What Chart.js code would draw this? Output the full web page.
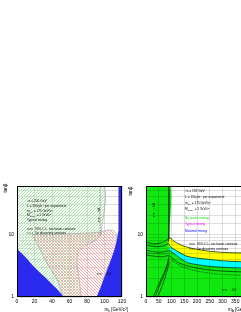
<!DOCTYPE html>
<html>
<head>
<meta charset="utf-8">
<script src="https://cdn.jsdelivr.net/npm/chart.js@4.4.0/dist/chart.umd.min.js"></script>
<style>
html, body { margin: 0; padding: 0; background: #fff; overflow: hidden; width: 241px; height: 312px; }
canvas { position: absolute; }
#left { left: 0; top: 180px; }
#right { left: 128px; top: 180px; }
</style>
</head>
<body>
<canvas id="left" width="130" height="132"></canvas>
<canvas id="right" width="130" height="132"></canvas>
<script>
const FONT = '"Liberation Sans", Arial, sans-serif';

// axes
const tanbRange = [1, 60];
const tanbLabels = [1, 10];
const mhRange = [0, 120];
const mhStep = 20;
const mARange = [0, 400];
const mAStep = 50;

// left panel: tanb vs m_h, regions as [m_h, tanb]
const hAExcl = [[0,0.8],[0,70],[96,70],[96,10],[92,8.6],[84,7.3],[76,6.3],[70,5.2],[68.5,3.8],[70,2.4],[72,1.5],[74,0.8]];
const hZExcl = [[17,10],[40,10.1],[70,10.4],[95,11],[104,11.8],[110,11.6],[114,10],[114,8],[111,5.5],[107,3.8],[102,2.5],[97,1.6],[92,0.9],[57,0.9],[45,2],[34,3.5],[26,6],[17,10]];
const noSolLow = [[-5,8],[0,6],[10,4.3],[20,3],[30,2.2],[40,1.6],[50,1.15],[56,0.8],[-5,0.8]];
const noSolHigh = [[116,70],[130,70],[130,0.8],[91,0.8],[97,1.6],[102,2.5],[107,3.8],[111,5.5],[114,8],[116,12]];
const hADisc = [[95,70],[95,9.3]];

// right panel: tanb vs m_A
const hAExclR = [[0,0.8],[0,70],[91,70],[91,8.6],[95,8.8],[110,7.8],[130,7.0],[150,6.5],[200,5.8],[250,5.4],[300,5.2],[350,5.1],[420,5.0],[420,0.8]];
const typicalBand = [[88,8.0],[95,8.8],[110,7.8],[130,7.0],[150,6.5],[200,5.8],[250,5.4],[300,5.2],[350,5.1],[420,5.0],[420,3.6],[350,3.7],[300,3.8],[250,4.0],[200,4.2],[160,4.5],[130,5.2],[110,5.8],[100,6.2],[95,6.4],[90,6.3]];
const maximalBand = [[92,6.0],[95,6.4],[100,6.2],[110,5.8],[130,5.2],[160,4.5],[200,4.2],[250,4.0],[300,3.8],[350,3.7],[420,3.6],[420,2.85],[350,2.9],[300,3.0],[250,3.1],[200,3.3],[160,3.6],[120,4.6],[100,5.3],[93,5.5]];
const contoursR = [
  [[0,7.6],[30,7.1],[60,7.4],[80,8.1],[95,8.8],[110,7.8],[150,6.5],[200,5.8],[250,5.4],[300,5.2],[420,5.0]],
  [[0,6.8],[40,6.4],[70,6.6],[88,7.2],[95,6.4],[110,5.8],[130,5.2],[160,4.5],[200,4.2],[250,4.0],[300,3.8],[420,3.6]],
  [[0,5.6],[50,5.2],[80,5.4],[93,5.5],[100,5.3],[120,4.6],[160,3.6],[200,3.3],[250,3.1],[300,3.0],[420,2.85]],
  [[0,4.7],[60,4.4],[90,4.6],[100,4.3],[130,3.5],[200,2.9],[300,2.6],[420,2.5]],
  [[28,1],[50,1.6],[70,2.4],[85,3.5],[90,4.5]],
  [[36,1],[58,1.7],[78,2.7],[90,4.0]],
  [[46,1],[66,1.6],[82,2.6],[92,3.6]],
  [[88.5,70],[88.5,7.6]],
  [[91,70],[91,8.6]]
];
const discoveryR = [
  [[100,3.9],[140,3.1],[200,2.6],[300,2.3],[420,2.2]],
  [[0,5.1],[60,4.9],[92,5.0]]
];

function hatch(color, dir) {
  const c = document.createElement('canvas');
  c.width = 3; c.height = 3;
  const g = c.getContext('2d');
  g.fillStyle = color;
  for (let i = 0; i < 3; i++) {
    for (let j = 0; j < 3; j++) {
      if ((dir > 0 ? (i + j) : (i - j + 3)) % 3 === 0) g.fillRect(i, j, 1, 1);
    }
  }
  return g.createPattern(c, 'repeat');
}

const pts = arr => arr.map(p => ({x: p[0], y: p[1]}));

function area(data, bg, border, order, bw) {
  return { data: pts(data), backgroundColor: bg, borderColor: border || 'rgba(0,0,0,0)',
    borderWidth: bw || 0, fill: 'shape', pointRadius: 0, tension: 0.3, order: order, clip: 0 };
}
function line(data, color, width, dash, order) {
  return { data: pts(data), borderColor: color, borderWidth: width, borderDash: dash || [],
    fill: false, pointRadius: 0, tension: 0.3, order: order, clip: 0 };
}

function richParts(s) {
  const out = [];
  const re = /([_^])\{([^}]*)\}/g;
  let last = 0, m;
  while ((m = re.exec(s))) {
    if (m.index > last) out.push([s.slice(last, m.index), 0]);
    out.push([m[2], m[1] === '_' ? 1 : -1]);
    last = re.lastIndex;
  }
  if (last < s.length) out.push([s.slice(last), 0]);
  return out;
}
function drawRich(ctx, s, x, y, size, align) {
  const parts = richParts(s);
  let w = 0;
  for (const [t, k] of parts) { ctx.font = (k ? size * 0.7 : size) + 'px ' + FONT; w += ctx.measureText(t).width; }
  let cx = align === 'right' ? x - w : align === 'center' ? x - w / 2 : x;
  for (const [t, k] of parts) {
    ctx.font = (k ? size * 0.7 : size) + 'px ' + FONT;
    ctx.fillText(t, cx, y + k * size * 0.3);
    cx += ctx.measureText(t).width;
  }
}

const notes = {
  id: 'notes',
  afterDraw(chart, args, opts) {
    const { ctx, chartArea: a } = chart;
    ctx.save();
    ctx.strokeStyle = '#000';
    ctx.lineWidth = 1;
    ctx.strokeRect(a.left + 0.5, a.top + 0.5, a.width - 1, a.height - 1);
    ctx.textBaseline = 'middle';
    for (const n of opts.items) {
      const x = n.m !== undefined ? chart.scales.x.getPixelForValue(n.m) : a.left + n.dx;
      const y = n.t !== undefined ? chart.scales.y.getPixelForValue(n.t) : a.top + n.dy;
      ctx.fillStyle = n.color || '#000';
      if (n.sample) {
        ctx.strokeStyle = '#000';
        ctx.lineWidth = 0.6;
        ctx.setLineDash(n.sample === 'dashed' ? [1.5, 1] : []);
        ctx.beginPath(); ctx.moveTo(x - 8, y); ctx.lineTo(x - 2, y); ctx.stroke();
        ctx.setLineDash([]);
      }
      if (n.rot) {
        ctx.save();
        ctx.translate(x, y);
        ctx.rotate(-Math.PI / 2);
        drawRich(ctx, n.text, 0, 0, n.size, 'center');
        ctx.restore();
      } else {
        drawRich(ctx, n.text, x, y, n.size, n.align || 'left');
      }
    }
    ctx.restore();
  }
};

function makeChart(id, xRange, xStep, datasets, pad, yWidth, gridZ, items) {
  return new Chart(document.getElementById(id), {
    type: 'line',
    data: { datasets: datasets },
    options: {
      responsive: false, animation: false, events: [],
      layout: { padding: pad },
      plugins: { legend: { display: false }, tooltip: { enabled: false }, notes: { items: items } },
      scales: {
        x: {
          type: 'linear', min: xRange[0], max: xRange[1],
          afterFit: s => { s.height = 15; },
          ticks: { stepSize: xStep, color: '#000', padding: 2, maxRotation: 0, autoSkip: false, font: { size: 5, family: FONT } },
          grid: { color: 'rgba(0,0,0,0.22)', lineWidth: 0.6, drawTicks: false, z: gridZ },
          border: { display: false }
        },
        y: {
          type: 'logarithmic', min: tanbRange[0], max: tanbRange[1],
          afterFit: s => { s.width = yWidth; },
          ticks: { color: '#000', padding: 3, autoSkip: false, font: { size: 5, family: FONT },
            callback: v => tanbLabels.includes(v) ? String(v) : '' },
          grid: { color: 'rgba(0,0,0,0.22)', lineWidth: 0.6, drawTicks: false, z: gridZ },
          border: { display: false }
        }
      }
    },
    plugins: [notes]
  });
}

const greenHatch = hatch('#a4e6a4', 1);
const redHatch = hatch('#f2a6a6', -1);
const BLUE = '#2b2bef';

makeChart('left', mhRange, mhStep, [
  area(hAExcl, greenHatch, '#999', 6, 0.6),
  area(hZExcl, redHatch, '#999', 5, 0.6),
  area(noSolLow, BLUE, null, 3),
  area(noSolHigh, BLUE, null, 3),
  line(hADisc, '#555', 0.6, [1.5, 1], 1)
], { top: 5, right: 8, left: 0, bottom: 0 }, 17, -1, [
  { text: '√s = 200 GeV', dx: 10, dy: 15, size: 3.2 },
  { text: 'L = 200 pb^{-1} per experiment', dx: 10, dy: 20, size: 3.2 },
  { text: 'm_{top} = 175 GeV/c^{2}', dx: 10, dy: 25, size: 3.2 },
  { text: 'M_{SUSY} = 1 TeV/c^{2}', dx: 10, dy: 29, size: 3.2 },
  { text: 'Typical mixing', dx: 10, dy: 34, size: 3.2 },
  { text: '95% C.L. exclusion contours', dx: 18, dy: 43, size: 3.2, sample: 'solid' },
  { text: '5σ discovery contours', dx: 18, dy: 47, size: 3.2, sample: 'dashed' },
  { text: 'e^{+}e^{-} → hA', dx: 82, dy: 29, size: 3.2, rot: true },
  { text: 'e^{+}e^{-} → hZ', dx: 80, dy: 88, size: 3.2 },
  { text: 'tanβ', dx: -11, dy: 2, size: 4.5, rot: true },
  { text: 'm_{h} [GeV/c^{2}]', dx: 111, dy: 124, size: 4.5, align: 'right' }
]);

makeChart('right', mARange, mAStep, [
  area(hAExclR, '#10e810', null, 9),
  area(typicalBand, '#ffff00', null, 8),
  area(maximalBand, '#00ffff', null, 7),
  ...contoursR.map(c => line(c, '#000', 0.6, null, 2)),
  ...discoveryR.map(c => line(c, '#000', 0.5, [1.5, 1], 2))
], { top: 5, right: 10, left: 0, bottom: 0 }, 18, 1, [
  { text: '√s = 192 GeV', dx: 39, dy: 5, size: 3.2 },
  { text: 'L = 150 pb^{-1} per experiment', dx: 39, dy: 11, size: 3.2 },
  { text: 'm_{top} = 175 GeV/c^{2}', dx: 39, dy: 17, size: 3.2 },
  { text: 'M_{SUSY} = 1 TeV/c^{2}', dx: 39, dy: 23, size: 3.2 },
  { text: 'No scalar mixing', dx: 39, dy: 32, size: 3.2, color: '#00dd00' },
  { text: 'Typical mixing', dx: 39, dy: 38.5, size: 3.2, color: '#ff00ff' },
  { text: 'Maximal mixing', dx: 39, dy: 45, size: 3.2, color: '#0000ff' },
  { text: '95% C.L. exclusion contours', dx: 51, dy: 58, size: 3.2, sample: 'solid' },
  { text: '5σ discovery contours', dx: 51, dy: 63, size: 3.2, sample: 'dashed' },
  { text: 'e^{+}e^{-} → hA', dx: 8, dy: 24, size: 3.2, rot: true },
  { text: 'e^{+}e^{-} → hZ', dx: 76, dy: 104, size: 3.2 },
  { text: 'tanβ', dx: -15, dy: 5, size: 4.5, rot: true },
  { text: 'm_{A} [GeV/c^{2}]', dx: 82, dy: 124, size: 4.5 }
]);
</script>
</body>
</html>
